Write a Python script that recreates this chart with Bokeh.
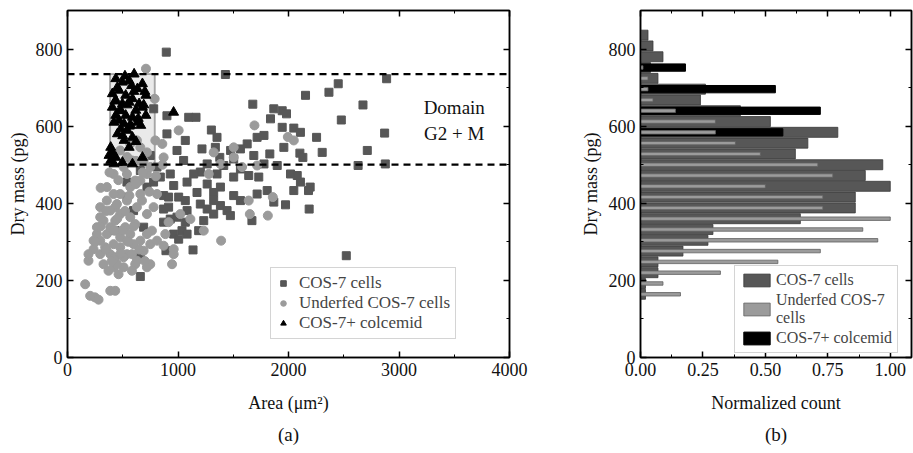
from bokeh.plotting import figure
from bokeh.layouts import row
from bokeh.models import (Legend, LegendItem, Span, BoxAnnotation, Label, Title,
                          LinearAxis, FixedTicker, PrintfTickFormatter)
from bokeh.embed import file_html
from bokeh.resources import INLINE

SERIF = "Liberation Serif"

# ---------------- panel (a) data ----------------
cos7_x = [894, 1429, 2888, 2450, 2366, 2154, 2674, 1677, 1867, 1943, 1982, 2478, 1837, 1097, 1163, 900, 780,
          1302, 900, 1943, 2048, 2108, 2870, 2254, 1353, 1716, 1778, 1066, 1626, 1565, 1958, 1338, 991, 1217,
          2713, 2305, 2103, 1476, 1831, 1686, 1504, 749, 1378, 1051, 2130, 2630, 2876, 1778, 1264, 2079, 1202,
          930, 1640, 1731, 2108, 1504, 1353, 840, 1082, 1264, 1384, 779, 961, 1172, 2196, 2048, 1716, 1807,
          2181, 1323, 870, 1006, 1504, 1066, 1867, 1973, 1202, 1384, 915, 2187, 1082, 870, 1264, 1444, 1474,
          991, 930, 1066, 1669, 870, 1036, 961, 1082, 1006, 1187, 1136, 2523, 659, 891, 659, 538, 538, 689,
          659, 432, 598, 719, 1233, 1323, 1565, 1142, 1414, 810, 1898, 1565, 1323, 915, 2018]
cos7_y = [792, 734, 723, 710, 688, 680, 655, 657, 645, 640, 632, 616, 619, 623, 623, 627, 645,
          590, 580, 597, 595, 584, 582, 571, 571, 571, 576, 563, 554, 541, 545, 545, 537, 541,
          537, 532, 530, 537, 528, 524, 515, 524, 519, 511, 519, 498, 502, 502, 502, 472, 481,
          476, 472, 468, 455, 468, 476, 468, 455, 450, 442, 455, 446, 428, 442, 433, 424, 433,
          433, 428, 420, 416, 420, 407, 403, 396, 398, 394, 390, 385, 381, 385, 385, 381, 368,
          364, 359, 351, 355, 351, 329, 320, 320, 307, 329, 279, 264, 210, 277, 485, 455, 416, 338,
          260, 329, 381, 442, 355, 407, 407, 476, 498, 494, 498, 489, 372, 416, 476]

under_x = [710, 789, 1006, 1692, 2048, 795, 858, 870, 719, 1504, 1323, 1390, 961, 946, 749, 719, 628, 689,
           870, 749, 160, 205, 248, 281, 387, 432, 190, 236, 190, 296, 326, 371, 417, 462, 508, 296, 356,
           266, 387, 432, 326, 296, 356, 432, 477, 523, 568, 598, 538, 477, 417, 387, 568, 613, 628, 538,
           477, 568, 613, 538, 659, 674, 719, 779, 810, 764, 810, 885, 915, 961, 432, 477, 341, 447, 613,
           583, 659, 719, 749, 689, 583, 508, 477, 568, 628, 659, 1021, 1278, 1384, 1504, 1640, 1650,
           1813, 1858, 1580, 1716, 1994, 1112, 1233, 296, 266, 236, 417, 356, 417, 387, 447, 719, 659,
           538, 432, 583, 508,
           250, 300, 350, 400, 450, 500, 550, 600, 650, 700, 350, 420, 480, 520, 560, 620, 680, 740,
           800, 860, 300, 380, 460, 540, 620]
under_y = [749, 671, 589, 602, 563, 563, 554, 519, 532, 545, 532, 303, 268, 242, 242, 234, 251, 277,
           290, 294, 190, 160, 156, 150, 173, 173, 251, 281, 268, 268, 242, 225, 234, 216, 234, 303, 320,
           320, 338, 355, 355, 390, 407, 390, 372, 338, 320, 294, 268, 286, 294, 268, 364, 346, 390, 407,
           424, 442, 459, 476, 424, 407, 372, 390, 424, 329, 303, 320, 351, 281, 329, 312, 286, 242, 242,
           225, 459, 476, 494, 511, 511, 494, 537, 554, 563, 545, 372, 476, 502, 519, 407, 372,
           368, 416, 494, 498, 572, 359, 329, 364, 338, 303, 424, 442, 476, 381, 398, 320, 303,
           303, 260, 268, 260,
           300, 340, 280, 250, 360, 330, 300, 340, 280, 250, 380, 330, 270, 380, 420, 450, 480, 430,
           470, 500, 440, 480, 460, 520, 510]

colc_x = [603, 437, 497, 558, 678, 633, 467, 406, 527, 709, 588, 437, 497, 558, 648, 406, 482, 618, 678,
          437, 527, 588, 467, 512, 633, 573, 482, 542, 452, 709, 663, 588, 512, 558, 391, 406, 376, 437,
          391, 421, 497, 588, 678, 960,
          450, 600, 540, 470, 640, 560, 420, 500, 620, 700, 520, 430, 580, 690]
colc_y = [735, 723, 714, 718, 710, 697, 693, 684, 680, 680, 671, 667, 658, 662, 658, 649, 641, 641, 649,
          628, 628, 623, 615, 606, 610, 602, 593, 589, 580, 628, 602, 571, 563, 545, 545, 532, 524, 519,
          511, 502, 506, 502, 519, 636,
          700, 690, 655, 640, 620, 600, 610, 575, 560, 690, 730, 665, 705, 655]

# ---------------- panel (b) data ----------------
bin_centers = [164, 192, 220, 248, 276, 304, 332, 360, 388, 416, 444, 472, 500, 528, 556, 584, 612, 640,
               668, 696, 724, 752, 780, 808, 836]
cos7_norm = [0.02, 0.02, 0.07, 0.07, 0.17, 0.27, 0.29, 0.64, 0.86, 0.86, 1.00, 0.90, 0.97, 0.62, 0.67,
             0.79, 0.52, 0.40, 0.24, 0.26, 0.07, 0.04, 0.09, 0.05, 0.03]
under_norm = [0.16, 0.09, 0.32, 0.55, 0.72, 0.95, 0.89, 1.00, 0.73, 0.73, 0.50, 0.77, 0.71, 0.48, 0.38,
              0.30, 0.30, 0.14, 0.05, 0.03, 0.03, 0.01, 0.0, 0.0, 0.0]
colc_norm = [0, 0, 0, 0, 0, 0, 0, 0, 0, 0, 0, 0, 0, 0, 0, 0.57, 0, 0.72, 0, 0.54, 0, 0.18, 0, 0, 0]

y_ticks = [0, 200, 400, 600, 800]
y_minor = [100, 300, 500, 700]
ax_ticks = [0, 1000, 2000, 3000, 4000]
ax_minor = [500, 1500, 2500, 3500]
bx_ticks = [0, 0.25, 0.5, 0.75, 1.0]
bx_minor = [0.125, 0.375, 0.625, 0.875]

DARK = "#575757"
LIGHT = "#9b9b9b"


def style(p, xt, xm, yt, ym, xlabel, ylabel):
    p.xgrid.visible = False
    p.ygrid.visible = False
    p.outline_line_color = "black"
    p.outline_line_width = 1.5
    p.background_fill_color = "white"
    p.border_fill_color = "white"
    xa = p.below[0]
    ya = p.left[0]
    xa.axis_label = xlabel
    ya.axis_label = ylabel
    for ax, t, m in ((xa, xt, xm), (ya, yt, ym)):
        ax.ticker = FixedTicker(ticks=t, minor_ticks=m)
        ax.major_tick_in = 6
        ax.major_tick_out = 0
        ax.minor_tick_in = 3
        ax.minor_tick_out = 0
        ax.axis_line_width = 1.5
        ax.major_tick_line_width = 1.5
        ax.major_label_text_font = SERIF
        ax.major_label_text_font_size = "18px"
        ax.major_label_text_color = "#111111"
        ax.axis_label_text_font = SERIF
        ax.axis_label_text_font_size = "18px"
        ax.axis_label_text_font_style = "normal"
        ax.axis_label_text_color = "#111111"
        ax.major_label_standoff = 5
    xa.axis_label_standoff = 14
    for loc, t, m in (("above", xt, xm), ("right", yt, ym)):
        a = LinearAxis(ticker=FixedTicker(ticks=t, minor_ticks=m))
        a.major_tick_in = 6
        a.major_tick_out = 0
        a.minor_tick_in = 3
        a.minor_tick_out = 0
        a.major_label_text_font_size = "1px"
        a.major_label_text_color = None
        a.major_label_standoff = 0
        a.axis_line_width = 1.5
        a.major_tick_line_width = 1.5
        p.add_layout(a, loc)
    return xa, ya


# ---------------- panel (a) ----------------
p1 = figure(width=560, height=453, x_range=(0, 4000), y_range=(0, 900),
            output_backend="svg", toolbar_location=None,
            min_border_left=67, min_border_right=51, min_border_top=10, min_border_bottom=96)
style(p1, ax_ticks, ax_minor, y_ticks, y_minor, "Area (μm²)", "Dry mass (pg)")

box = BoxAnnotation(left=385, right=790, bottom=500, top=735, fill_color="#d0d0d0", fill_alpha=0.45,
                    line_color="black", line_width=2, level="underlay")
p1.add_layout(box)

r_sq = p1.scatter(cos7_x, cos7_y, marker="square", size=8, fill_color=DARK, line_color=DARK)
r_ci = p1.scatter(under_x, under_y, marker="circle", size=9, fill_color=LIGHT, line_color=LIGHT)
r_tr = p1.scatter(colc_x, colc_y, marker="triangle", size=10, fill_color="black", line_color="black")

for yv in (735, 500):
    p1.add_layout(Span(location=yv, dimension="width", line_color="black", line_width=2.2, line_dash="7 5"))

p1.add_layout(Label(x=3500, y=648, text="Domain", text_align="center", text_baseline="middle",
                    text_font=SERIF, text_font_size="19px", text_color="#111111"))
p1.add_layout(Label(x=3500, y=580, text="G2 + M", text_align="center", text_baseline="middle",
                    text_font=SERIF, text_font_size="19px", text_color="#111111"))

leg1 = Legend(items=[LegendItem(label="COS-7 cells", renderers=[r_sq]),
                     LegendItem(label="Underfed COS-7 cells", renderers=[r_ci]),
                     LegendItem(label="COS-7+ colcemid", renderers=[r_tr])],
              location=(203, 18), label_text_font=SERIF, label_text_font_size="17px",
              glyph_width=14, glyph_height=14, label_height=17, spacing=0, padding=5, margin=0,
              label_standoff=9, border_line_color="#aaaaaa", border_line_width=1.5,
              background_fill_alpha=1)
p1.add_layout(leg1)
p1.add_layout(Title(text="(a)", align="center", offset=2, standoff=12, text_font=SERIF,
                    text_font_size="19px", text_font_style="normal", text_color="#111111"), "below")

# ---------------- panel (b) ----------------
p2 = figure(width=353, height=453, x_range=(0, 1.085), y_range=(0, 900),
            output_backend="svg", toolbar_location=None,
            min_border_left=80, min_border_right=2, min_border_top=10, min_border_bottom=96)
xb, yb = style(p2, bx_ticks, bx_minor, y_ticks, y_minor, "Normalized count", "Dry mass (pg)")
xb.formatter = PrintfTickFormatter(format="%.2f")

h_dark = p2.hbar(y=bin_centers, height=26, left=0, right=cos7_norm, fill_color=DARK, line_color="#3a3a3a",
                 line_width=0.8)
h_black = p2.hbar(y=bin_centers, height=19, left=0, right=colc_norm, fill_color="black", line_color="black")
h_light = p2.hbar(y=bin_centers, height=9, left=0, right=under_norm, fill_color=LIGHT, line_color="#606060",
                  line_width=0.8)

leg2 = Legend(items=[LegendItem(label="COS-7 cells", renderers=[h_dark]),
                     LegendItem(label="Underfed COS-7\ncells", renderers=[h_light]),
                     LegendItem(label="COS-7+ colcemid", renderers=[h_black])],
              location=(94, 4), label_text_font=SERIF, label_text_font_size="16px",
              glyph_width=33, glyph_height=16, label_height=16, spacing=2, padding=5, margin=0,
              label_standoff=3, border_line_color="#aaaaaa", border_line_width=1.5,
              background_fill_alpha=1)
p2.add_layout(leg2)
p2.add_layout(Title(text="(b)", align="center", offset=-33, standoff=12, text_font=SERIF,
                    text_font_size="19px", text_font_style="normal", text_color="#111111"), "below")

layout = row(p1, p2)
open("out.html", "w").write(file_html(layout, INLINE))
